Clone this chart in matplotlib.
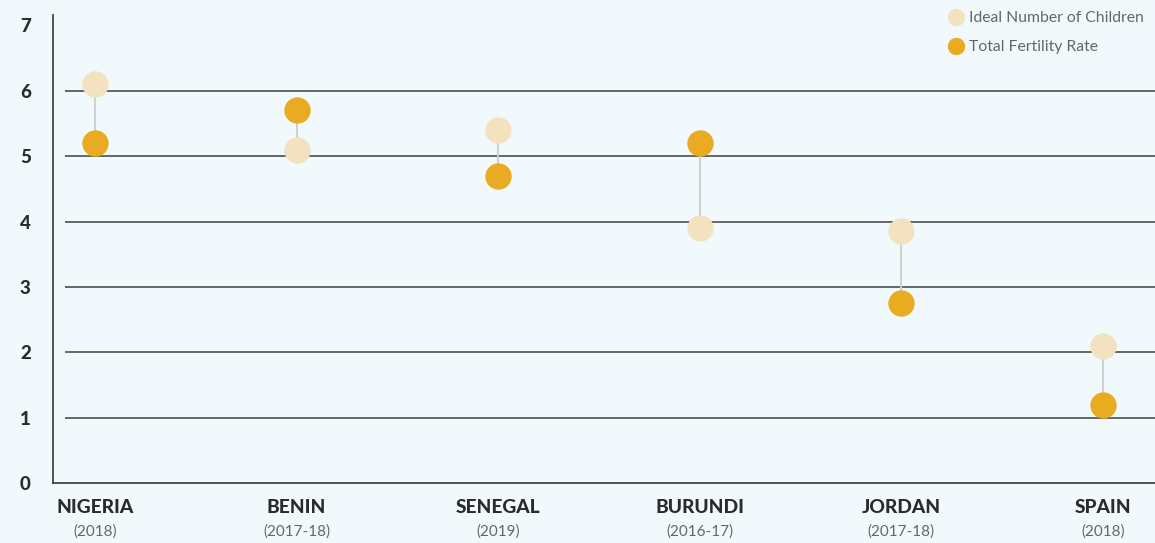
import matplotlib.pyplot as plt
from matplotlib.lines import Line2D

# data
countries = ['NIGERIA', 'BENIN', 'SENEGAL', 'BURUNDI', 'JORDAN', 'SPAIN']
years = ['(2018)', '(2017-18)', '(2019)', '(2016-17)', '(2017-18)', '(2018)']
ideal = [6.1, 5.1, 5.4, 3.9, 3.85, 2.1]
tfr = [5.2, 5.7, 4.7, 5.2, 2.75, 1.2]

bg = '#F2F9FD'
light = '#F2E2C0'
gold = '#E9AB21'

plt.rcParams['font.family'] = ['Lato', 'DejaVu Sans']

fig = plt.figure(figsize=(11.55, 5.43), dpi=100, facecolor=bg)
ax = fig.add_axes([53 / 1155, 60 / 543, 1 - 53 / 1155, 468 / 543])
ax.set_facecolor(bg)

x = list(range(len(countries)))
ax.set_xlim(-0.208, 5.258)
ax.set_ylim(0, 7.16)

# horizontal grid lines
ax.hlines(range(1, 7), -0.15, 5.258, color='#5a5a5a', lw=1.3, zorder=1)

# connector lines
ax.vlines(x, ideal, tfr, color='#cfcfcf', lw=1.4, zorder=2)

ax.scatter(x, ideal, s=360, color=light, zorder=3, linewidths=0)
ax.scatter(x, tfr, s=360, color=gold, zorder=4, linewidths=0)

for s in ['top', 'right']:
    ax.spines[s].set_visible(False)
for s in ['left', 'bottom']:
    ax.spines[s].set_color('#444444')
    ax.spines[s].set_linewidth(1.3)

ax.set_yticks(range(8))
ax.tick_params(axis='y', length=0, pad=16, labelsize=13.5, labelcolor='#2b2b2b')
for lab in ax.get_yticklabels():
    lab.set_fontweight('black')
ax.set_xticks([])

# country / year labels
for xi, name, yr in zip(x, countries, years):
    ax.annotate(name, (xi, 0), xycoords=('data', 'axes fraction'),
                xytext=(0, -17.5), textcoords='offset points',
                ha='center', va='center', fontsize=13.8, fontweight='black',
                color='#2b2b2b')
    ax.annotate(yr, (xi, 0), xycoords=('data', 'axes fraction'),
                xytext=(0, -35), textcoords='offset points',
                ha='center', va='center', fontsize=11, color='#666666')

handles = [
    Line2D([], [], marker='o', ls='', markersize=11.5, color=light, label='Ideal Number of Children'),
    Line2D([], [], marker='o', ls='', markersize=11.5, color=gold, label='Total Fertility Rate'),
]
leg = fig.legend(handles=handles, loc='upper right', bbox_to_anchor=(1.003, 1.005),
                 frameon=False, fontsize=11.3, handletextpad=0.25, labelspacing=0.95,
                 handlelength=1.2)
for t in leg.get_texts():
    t.set_color('#666666')

plt.savefig('out.png', facecolor=bg)
